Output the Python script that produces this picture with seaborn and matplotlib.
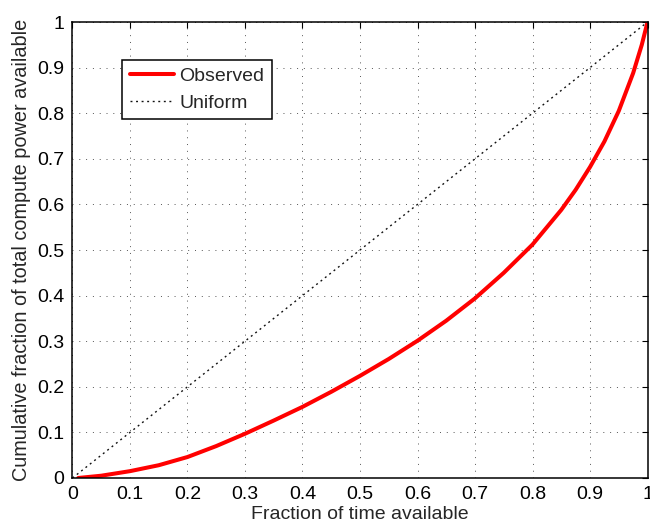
import numpy as np
import pandas as pd
import matplotlib
matplotlib.use("Agg")
import matplotlib.pyplot as plt
import seaborn as sns

# Fraction of time available vs. cumulative fraction of compute power
time_frac = [0.01, 0.05, 0.1, 0.15, 0.2, 0.25, 0.3, 0.35, 0.4, 0.45, 0.5,
             0.55, 0.6, 0.65, 0.7, 0.75, 0.8, 0.85, 0.875, 0.9, 0.925, 0.95,
             0.975, 0.99, 1.0]
observed = [0.0, 0.005, 0.015, 0.028, 0.046, 0.070, 0.097, 0.126, 0.156,
            0.189, 0.224, 0.261, 0.301, 0.345, 0.394, 0.450, 0.512, 0.588,
            0.632, 0.682, 0.738, 0.805, 0.888, 0.950, 1.0]
uniform_x = [0.0, 1.0]
uniform_y = [0.0, 1.0]

tick_vals = [0, 0.1, 0.2, 0.3, 0.4, 0.5, 0.6, 0.7, 0.8, 0.9, 1]
tick_labels = ["0", "0.1", "0.2", "0.3", "0.4", "0.5", "0.6", "0.7", "0.8", "0.9", "1"]

obs_df = pd.DataFrame({"time": time_frac, "power": observed})
uni_df = pd.DataFrame({"time": uniform_x, "power": uniform_y})

sns.set_theme(style="white")
plt.rcParams["font.family"] = ["Liberation Sans", "DejaVu Sans"]
plt.rcParams["font.size"] = 14

fig = plt.figure(figsize=(6.5, 5.24), dpi=100)
ax = fig.add_axes([0.1115, 0.0878, 0.8847, 0.8702])

sns.lineplot(data=obs_df, x="time", y="power", ax=ax, color="#ff0000",
             linewidth=2.9, label="Observed", sort=False)
sns.lineplot(data=uni_df, x="time", y="power", ax=ax, color="#111111",
             linewidth=1.0, linestyle=(0, (1.4, 2.6)), label="Uniform", sort=False)

ax.set_xlim(0, 1)
ax.set_ylim(0, 1)
ax.set_xticks(tick_vals)
ax.set_xticklabels(tick_labels)
ax.set_yticks(tick_vals)
ax.set_yticklabels(tick_labels)

ax.grid(True, color="#555555", linestyle=(0, (1, 6)), linewidth=0.7)
ax.set_axisbelow(True)

for side in ["left", "right", "top", "bottom"]:
    ax.spines[side].set_visible(True)
    ax.spines[side].set_color("black")
    ax.spines[side].set_linewidth(1.1)

ax.tick_params(direction="in", length=4, width=0.8, top=True, right=True,
               labelsize=14, colors="black")
ax.tick_params(axis="x", pad=6)
ax.tick_params(axis="y", pad=6)

ax.set_xlabel("Fraction of time available", fontsize=14, labelpad=2)
ax.set_ylabel("Cumulative fraction of total compute power available",
              fontsize=14.3, labelpad=4)

leg = ax.legend(loc="upper left", bbox_to_anchor=(0.086, 0.917), borderaxespad=0,
                fontsize=14, frameon=True, fancybox=False, handlelength=2.3,
                handletextpad=0.25, borderpad=0.4, labelspacing=0.45)
leg.get_frame().set_edgecolor("black")
leg.get_frame().set_linewidth(1.1)
leg.get_frame().set_alpha(1)

fig.savefig("out.png", dpi=100)
